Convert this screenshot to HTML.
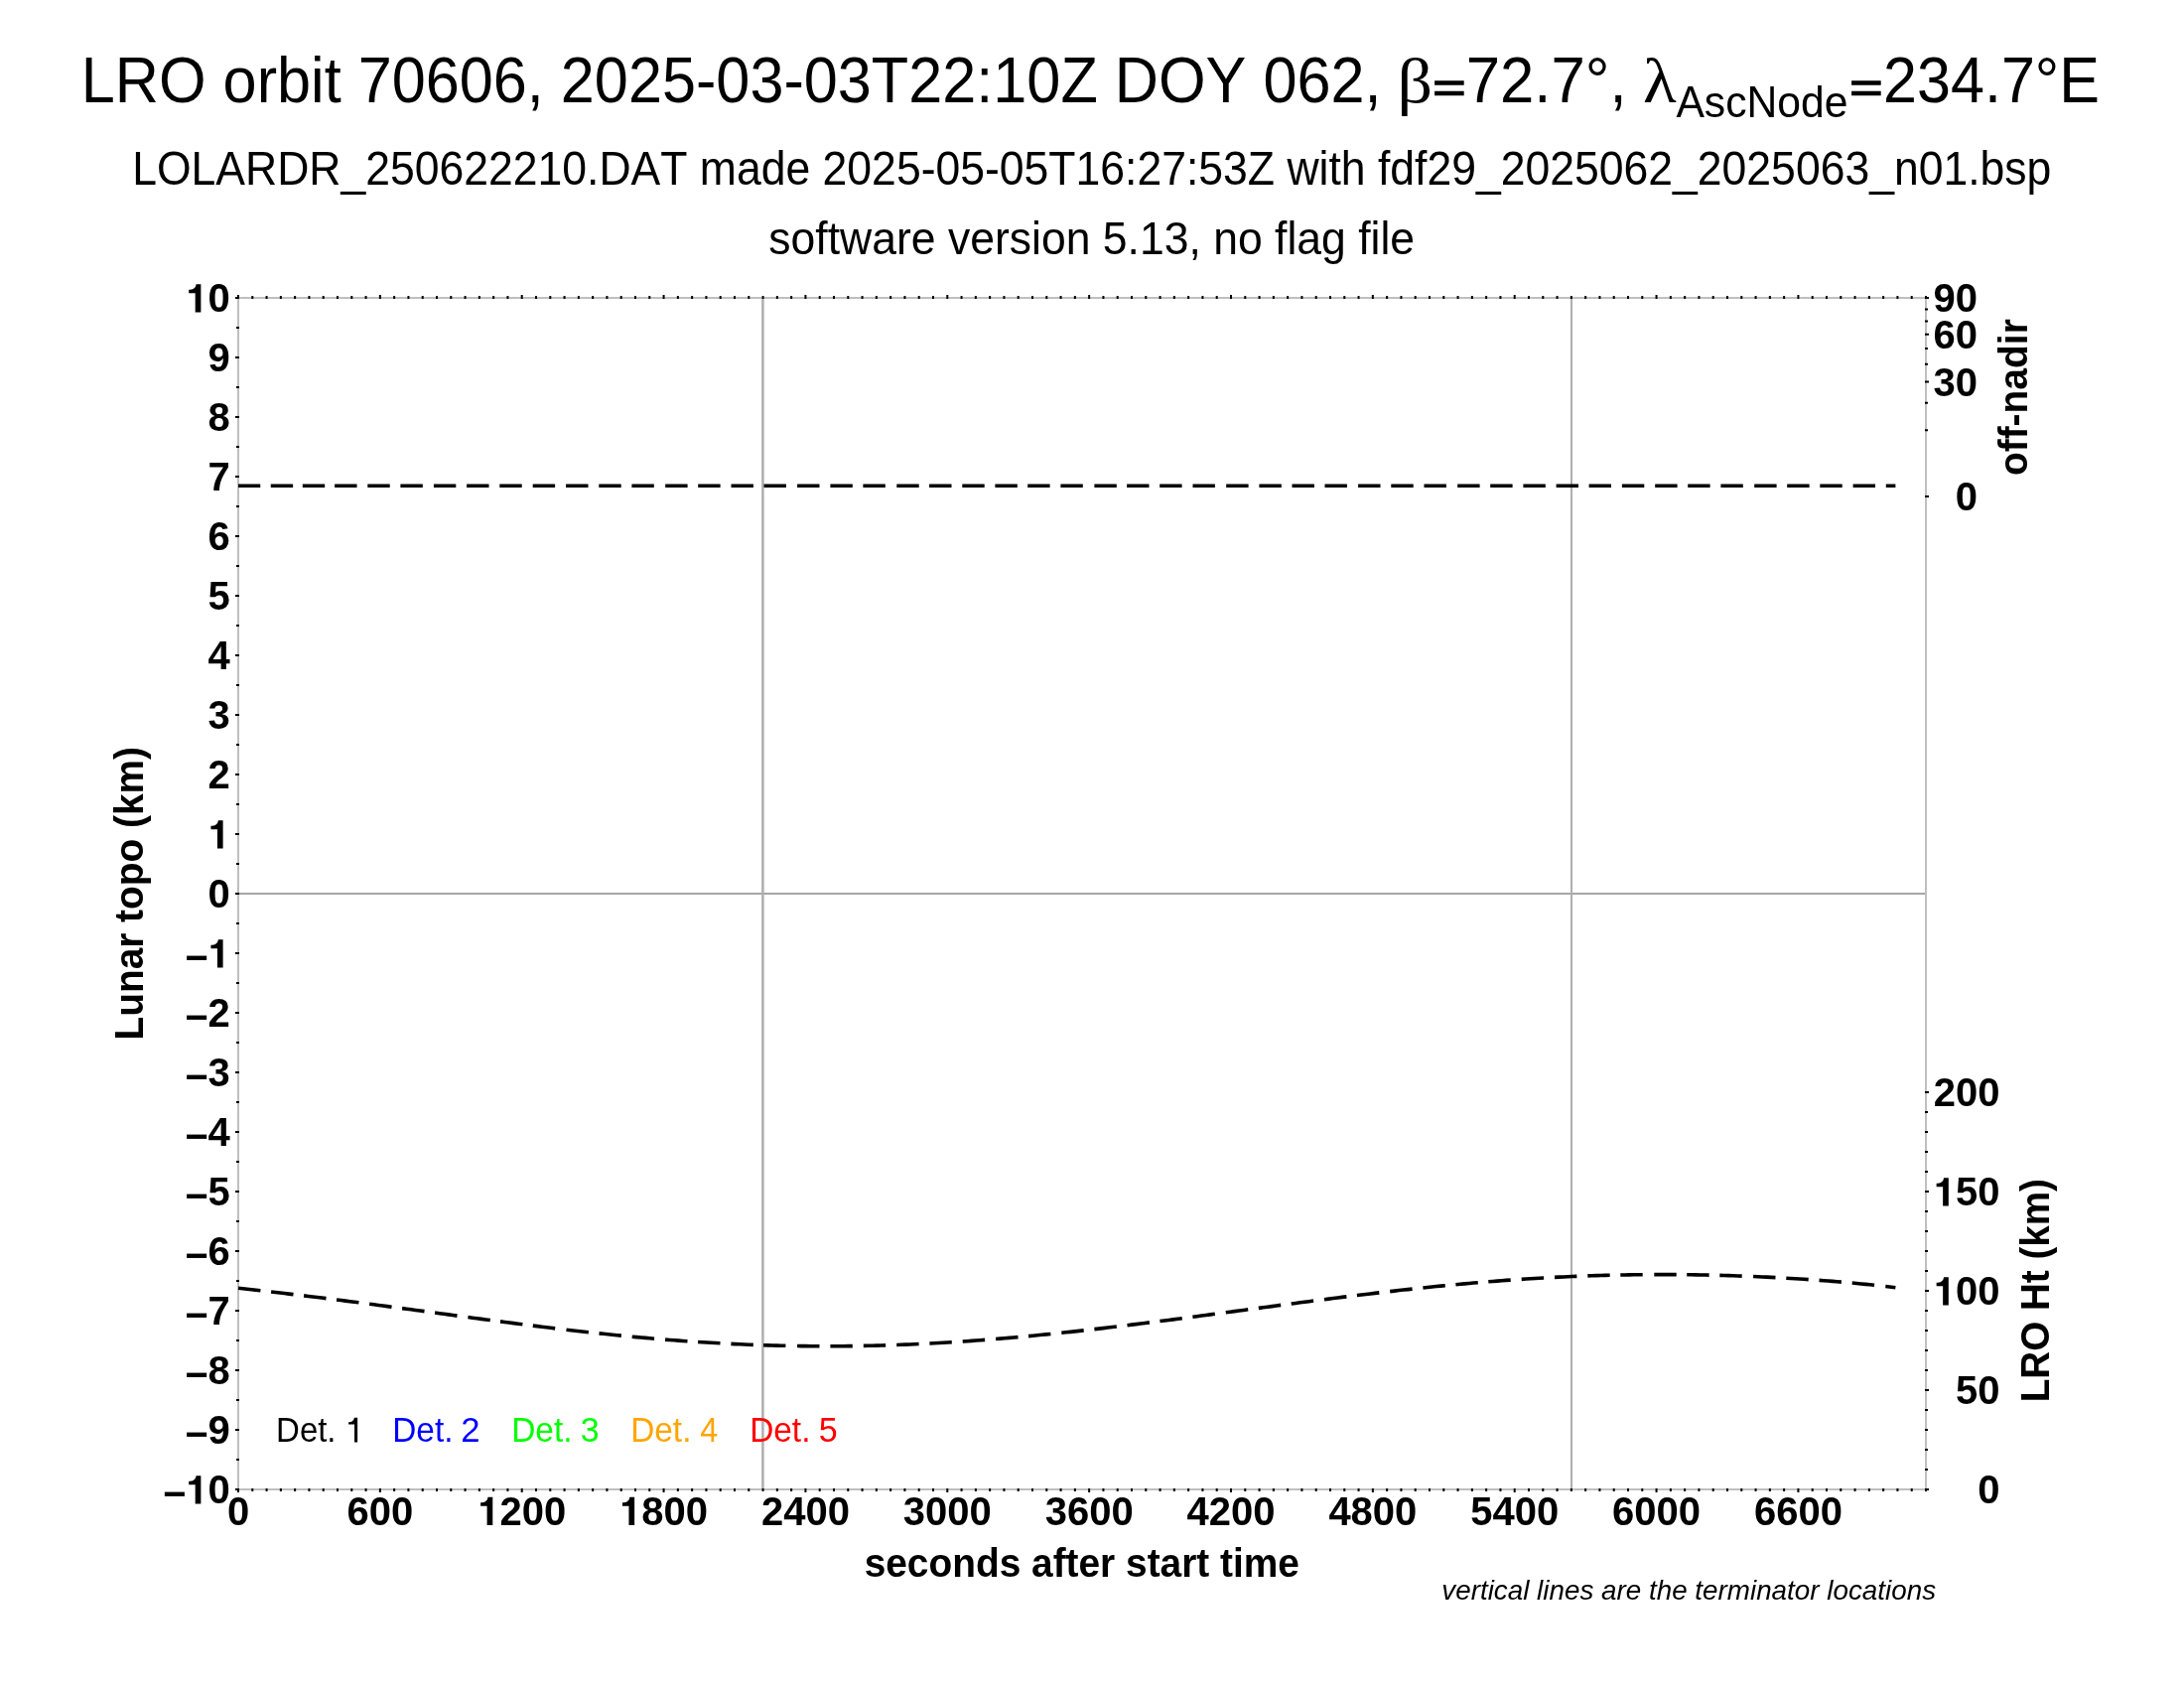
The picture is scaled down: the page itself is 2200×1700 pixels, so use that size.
<!DOCTYPE html>
<html><head><meta charset="utf-8"><style>
html,body{margin:0;padding:0;background:#fff;}
svg{display:block;will-change:transform;font-family:"Liberation Sans", sans-serif;font-kerning:none;}
text{font-kerning:none;}
</style></head><body>
<svg width="2200" height="1700" viewBox="0 0 2200 1700">
<rect width="2200" height="1700" fill="#fff"/>
<line x1="240.0" y1="900" x2="1940.0" y2="900" stroke="#a6a6a6" stroke-width="2"/>
<line x1="768.4" y1="300.0" x2="768.4" y2="1500.0" stroke="#aeaeae" stroke-width="2.5"/>
<line x1="1583" y1="300.0" x2="1583" y2="1500.0" stroke="#aeaeae" stroke-width="2"/>
<rect x="240.0" y="300.0" width="1700.0" height="1200.0" fill="none" stroke="#bfbfbf" stroke-width="2"/>
<path d="M240.00 1499.0V1503.0M240.00 301.0V297.0M254.29 1499.0V1502.0M254.29 301.0V298.0M268.57 1499.0V1502.0M268.57 301.0V298.0M282.86 1499.0V1502.0M282.86 301.0V298.0M297.14 1499.0V1502.0M297.14 301.0V298.0M311.43 1499.0V1502.0M311.43 301.0V298.0M325.71 1499.0V1502.0M325.71 301.0V298.0M340.00 1499.0V1502.0M340.00 301.0V298.0M354.29 1499.0V1502.0M354.29 301.0V298.0M368.57 1499.0V1502.0M368.57 301.0V298.0M382.86 1499.0V1503.0M382.86 301.0V297.0M397.14 1499.0V1502.0M397.14 301.0V298.0M411.43 1499.0V1502.0M411.43 301.0V298.0M425.71 1499.0V1502.0M425.71 301.0V298.0M440.00 1499.0V1502.0M440.00 301.0V298.0M454.29 1499.0V1502.0M454.29 301.0V298.0M468.57 1499.0V1502.0M468.57 301.0V298.0M482.86 1499.0V1502.0M482.86 301.0V298.0M497.14 1499.0V1502.0M497.14 301.0V298.0M511.43 1499.0V1502.0M511.43 301.0V298.0M525.71 1499.0V1503.0M525.71 301.0V297.0M540.00 1499.0V1502.0M540.00 301.0V298.0M554.29 1499.0V1502.0M554.29 301.0V298.0M568.57 1499.0V1502.0M568.57 301.0V298.0M582.86 1499.0V1502.0M582.86 301.0V298.0M597.14 1499.0V1502.0M597.14 301.0V298.0M611.43 1499.0V1502.0M611.43 301.0V298.0M625.71 1499.0V1502.0M625.71 301.0V298.0M640.00 1499.0V1502.0M640.00 301.0V298.0M654.29 1499.0V1502.0M654.29 301.0V298.0M668.57 1499.0V1503.0M668.57 301.0V297.0M682.86 1499.0V1502.0M682.86 301.0V298.0M697.14 1499.0V1502.0M697.14 301.0V298.0M711.43 1499.0V1502.0M711.43 301.0V298.0M725.71 1499.0V1502.0M725.71 301.0V298.0M740.00 1499.0V1502.0M740.00 301.0V298.0M754.29 1499.0V1502.0M754.29 301.0V298.0M768.57 1499.0V1502.0M768.57 301.0V298.0M782.86 1499.0V1502.0M782.86 301.0V298.0M797.14 1499.0V1502.0M797.14 301.0V298.0M811.43 1499.0V1503.0M811.43 301.0V297.0M825.71 1499.0V1502.0M825.71 301.0V298.0M840.00 1499.0V1502.0M840.00 301.0V298.0M854.29 1499.0V1502.0M854.29 301.0V298.0M868.57 1499.0V1502.0M868.57 301.0V298.0M882.86 1499.0V1502.0M882.86 301.0V298.0M897.14 1499.0V1502.0M897.14 301.0V298.0M911.43 1499.0V1502.0M911.43 301.0V298.0M925.71 1499.0V1502.0M925.71 301.0V298.0M940.00 1499.0V1502.0M940.00 301.0V298.0M954.29 1499.0V1503.0M954.29 301.0V297.0M968.57 1499.0V1502.0M968.57 301.0V298.0M982.86 1499.0V1502.0M982.86 301.0V298.0M997.14 1499.0V1502.0M997.14 301.0V298.0M1011.43 1499.0V1502.0M1011.43 301.0V298.0M1025.71 1499.0V1502.0M1025.71 301.0V298.0M1040.00 1499.0V1502.0M1040.00 301.0V298.0M1054.29 1499.0V1502.0M1054.29 301.0V298.0M1068.57 1499.0V1502.0M1068.57 301.0V298.0M1082.86 1499.0V1502.0M1082.86 301.0V298.0M1097.14 1499.0V1503.0M1097.14 301.0V297.0M1111.43 1499.0V1502.0M1111.43 301.0V298.0M1125.71 1499.0V1502.0M1125.71 301.0V298.0M1140.00 1499.0V1502.0M1140.00 301.0V298.0M1154.29 1499.0V1502.0M1154.29 301.0V298.0M1168.57 1499.0V1502.0M1168.57 301.0V298.0M1182.86 1499.0V1502.0M1182.86 301.0V298.0M1197.14 1499.0V1502.0M1197.14 301.0V298.0M1211.43 1499.0V1502.0M1211.43 301.0V298.0M1225.71 1499.0V1502.0M1225.71 301.0V298.0M1240.00 1499.0V1503.0M1240.00 301.0V297.0M1254.29 1499.0V1502.0M1254.29 301.0V298.0M1268.57 1499.0V1502.0M1268.57 301.0V298.0M1282.86 1499.0V1502.0M1282.86 301.0V298.0M1297.14 1499.0V1502.0M1297.14 301.0V298.0M1311.43 1499.0V1502.0M1311.43 301.0V298.0M1325.71 1499.0V1502.0M1325.71 301.0V298.0M1340.00 1499.0V1502.0M1340.00 301.0V298.0M1354.29 1499.0V1502.0M1354.29 301.0V298.0M1368.57 1499.0V1502.0M1368.57 301.0V298.0M1382.86 1499.0V1503.0M1382.86 301.0V297.0M1397.14 1499.0V1502.0M1397.14 301.0V298.0M1411.43 1499.0V1502.0M1411.43 301.0V298.0M1425.71 1499.0V1502.0M1425.71 301.0V298.0M1440.00 1499.0V1502.0M1440.00 301.0V298.0M1454.29 1499.0V1502.0M1454.29 301.0V298.0M1468.57 1499.0V1502.0M1468.57 301.0V298.0M1482.86 1499.0V1502.0M1482.86 301.0V298.0M1497.14 1499.0V1502.0M1497.14 301.0V298.0M1511.43 1499.0V1502.0M1511.43 301.0V298.0M1525.71 1499.0V1503.0M1525.71 301.0V297.0M1540.00 1499.0V1502.0M1540.00 301.0V298.0M1554.29 1499.0V1502.0M1554.29 301.0V298.0M1568.57 1499.0V1502.0M1568.57 301.0V298.0M1582.86 1499.0V1502.0M1582.86 301.0V298.0M1597.14 1499.0V1502.0M1597.14 301.0V298.0M1611.43 1499.0V1502.0M1611.43 301.0V298.0M1625.71 1499.0V1502.0M1625.71 301.0V298.0M1640.00 1499.0V1502.0M1640.00 301.0V298.0M1654.29 1499.0V1502.0M1654.29 301.0V298.0M1668.57 1499.0V1503.0M1668.57 301.0V297.0M1682.86 1499.0V1502.0M1682.86 301.0V298.0M1697.14 1499.0V1502.0M1697.14 301.0V298.0M1711.43 1499.0V1502.0M1711.43 301.0V298.0M1725.71 1499.0V1502.0M1725.71 301.0V298.0M1740.00 1499.0V1502.0M1740.00 301.0V298.0M1754.29 1499.0V1502.0M1754.29 301.0V298.0M1768.57 1499.0V1502.0M1768.57 301.0V298.0M1782.86 1499.0V1502.0M1782.86 301.0V298.0M1797.14 1499.0V1502.0M1797.14 301.0V298.0M1811.43 1499.0V1503.0M1811.43 301.0V297.0M1825.71 1499.0V1502.0M1825.71 301.0V298.0M1840.00 1499.0V1502.0M1840.00 301.0V298.0M1854.29 1499.0V1502.0M1854.29 301.0V298.0M1868.57 1499.0V1502.0M1868.57 301.0V298.0M1882.86 1499.0V1502.0M1882.86 301.0V298.0M1897.14 1499.0V1502.0M1897.14 301.0V298.0M1911.43 1499.0V1502.0M1911.43 301.0V298.0M1925.71 1499.0V1502.0M1925.71 301.0V298.0M1940.00 1499.0V1502.0M1940.00 301.0V298.0M241.0 1500.00H237.0M241.0 1470.00H238.0M241.0 1440.00H237.0M241.0 1410.00H238.0M241.0 1380.00H237.0M241.0 1350.00H238.0M241.0 1320.00H237.0M241.0 1290.00H238.0M241.0 1260.00H237.0M241.0 1230.00H238.0M241.0 1200.00H237.0M241.0 1170.00H238.0M241.0 1140.00H237.0M241.0 1110.00H238.0M241.0 1080.00H237.0M241.0 1050.00H238.0M241.0 1020.00H237.0M241.0 990.00H238.0M241.0 960.00H237.0M241.0 930.00H238.0M241.0 900.00H237.0M241.0 870.00H238.0M241.0 840.00H237.0M241.0 810.00H238.0M241.0 780.00H237.0M241.0 750.00H238.0M241.0 720.00H237.0M241.0 690.00H238.0M241.0 660.00H237.0M241.0 630.00H238.0M241.0 600.00H237.0M241.0 570.00H238.0M241.0 540.00H237.0M241.0 510.00H238.0M241.0 480.00H237.0M241.0 450.00H238.0M241.0 420.00H237.0M241.0 390.00H238.0M241.0 360.00H237.0M241.0 330.00H238.0M241.0 300.00H237.0M1939.0 500.00H1943.0M1939.0 433.33H1942.0M1939.0 405.72H1942.0M1939.0 384.53H1943.0M1939.0 366.67H1942.0M1939.0 350.93H1942.0M1939.0 336.70H1943.0M1939.0 323.62H1942.0M1939.0 311.44H1942.0M1939.0 300.00H1943.0M1939.0 1500.00H1943.0M1939.0 1480.00H1942.0M1939.0 1460.00H1942.0M1939.0 1440.00H1942.0M1939.0 1420.00H1942.0M1939.0 1400.00H1943.0M1939.0 1380.00H1942.0M1939.0 1360.00H1942.0M1939.0 1340.00H1942.0M1939.0 1320.00H1942.0M1939.0 1300.00H1943.0M1939.0 1280.00H1942.0M1939.0 1260.00H1942.0M1939.0 1240.00H1942.0M1939.0 1220.00H1942.0M1939.0 1200.00H1943.0M1939.0 1180.00H1942.0M1939.0 1160.00H1942.0M1939.0 1140.00H1942.0M1939.0 1120.00H1942.0M1939.0 1100.00H1943.0" stroke="#000" stroke-width="2" fill="none"/>
<path d="M240.00 489.3H262.25M272.75 489.3H295.15M304.80 489.3H327.20M337.15 489.3H359.55M370.30 489.3H392.70M403.40 489.3H425.80M436.90 489.3H459.30M470.10 489.3H492.50M503.30 489.3H525.70M536.70 489.3H559.10M570.10 489.3H592.50M603.30 489.3H625.70M636.40 489.3H658.80M670.20 489.3H692.60M703.20 489.3H725.60M736.50 489.3H758.90M769.50 489.3H791.90M803.10 489.3H825.50M836.40 489.3H858.80M869.40 489.3H891.80M903.30 489.3H925.70M936.10 489.3H958.50M969.30 489.3H991.70M1002.40 489.3H1024.80M1035.20 489.3H1057.60M1068.40 489.3H1090.80M1102.40 489.3H1124.80M1135.10 489.3H1157.50M1168.20 489.3H1190.60M1201.50 489.3H1223.90M1235.20 489.3H1257.60M1268.40 489.3H1290.80M1301.50 489.3H1323.90M1334.50 489.3H1356.90M1368.10 489.3H1390.50M1401.30 489.3H1423.70M1434.50 489.3H1456.90M1468.20 489.3H1490.60M1501.20 489.3H1523.60M1534.40 489.3H1556.80M1567.60 489.3H1590.00M1600.60 489.3H1623.00M1633.90 489.3H1656.30M1667.20 489.3H1689.60M1700.20 489.3H1722.60M1733.40 489.3H1755.80M1767.20 489.3H1789.60M1800.20 489.3H1822.60M1833.30 489.3H1855.70M1866.60 489.3H1889.00M1899.80 489.3H1909.40" stroke="#000" stroke-width="3.6" fill="none"/>
<path d="M240.00 1297.29L244.48 1297.78L248.96 1298.27L253.44 1298.77L257.92 1299.27L262.40 1299.78M273.10 1301.00L277.58 1301.51L282.06 1302.03L286.54 1302.56L291.02 1303.09L295.50 1303.62M306.10 1304.89L310.58 1305.43L315.06 1305.98L319.54 1306.53L324.02 1307.08L328.50 1307.64M339.05 1308.96L343.53 1309.53L348.01 1310.10L352.49 1310.68L356.97 1311.25L361.45 1311.83M372.15 1313.23L376.63 1313.82L381.11 1314.41L385.59 1315.00L390.07 1315.60L394.55 1316.19M405.10 1317.61L409.58 1318.21L414.06 1318.81L418.54 1319.42L423.02 1320.02L427.50 1320.63M438.10 1322.07L442.58 1322.67L447.06 1323.28L451.54 1323.89L456.02 1324.49L460.50 1325.10M471.40 1326.57L475.88 1327.17L480.36 1327.77L484.84 1328.37L489.32 1328.96L493.80 1329.56M504.00 1330.90L508.48 1331.48L512.96 1332.07L517.44 1332.64L521.92 1333.22L526.40 1333.79M536.80 1335.10L541.28 1335.66L545.76 1336.21L550.24 1336.76L554.72 1337.30L559.20 1337.84M570.50 1339.18L574.98 1339.70L579.46 1340.21L583.94 1340.72L588.42 1341.22L592.90 1341.71M603.50 1342.85L607.98 1343.33L612.46 1343.79L616.94 1344.25L621.42 1344.70L625.90 1345.14M636.70 1346.18L641.18 1346.60L645.66 1347.00L650.14 1347.40L654.62 1347.80L659.10 1348.18M670.10 1349.09L674.58 1349.44L679.06 1349.78L683.54 1350.12L688.02 1350.45L692.50 1350.77M703.10 1351.48L707.58 1351.77L712.06 1352.04L716.54 1352.31L721.02 1352.57L725.50 1352.82M736.40 1353.38L740.88 1353.60L745.36 1353.80L749.84 1354.00L754.32 1354.18L758.80 1354.36M769.00 1354.72L773.48 1354.86L777.96 1354.99L782.44 1355.11L786.92 1355.22L791.40 1355.32M803.10 1355.53L807.58 1355.60L812.06 1355.65L816.54 1355.69L821.02 1355.72L825.50 1355.75M836.40 1355.76L840.88 1355.74L845.36 1355.72L849.84 1355.68L854.32 1355.64L858.80 1355.58M869.80 1355.40L874.28 1355.31L878.76 1355.21L883.24 1355.10L887.72 1354.97L892.20 1354.84M903.20 1354.48L907.68 1354.31L912.16 1354.13L916.64 1353.95L921.12 1353.75L925.60 1353.55M936.40 1353.01L940.88 1352.77L945.36 1352.52L949.84 1352.27L954.32 1352.00L958.80 1351.72M969.70 1351.02L974.18 1350.71L978.66 1350.39L983.14 1350.07L987.62 1349.74L992.10 1349.40M1003.10 1348.52L1007.58 1348.15L1012.06 1347.77L1016.54 1347.39L1021.02 1347.00L1025.50 1346.59M1036.00 1345.62L1040.48 1345.20L1044.96 1344.77L1049.44 1344.33L1053.92 1343.88L1058.40 1343.43M1069.30 1342.29L1073.78 1341.82L1078.26 1341.34L1082.74 1340.85L1087.22 1340.36L1091.70 1339.86M1102.40 1338.64L1106.88 1338.12L1111.36 1337.60L1115.84 1337.07L1120.32 1336.54L1124.80 1336.00M1135.50 1334.71L1139.98 1334.15L1144.46 1333.60L1148.94 1333.04L1153.42 1332.48L1157.90 1331.91M1168.40 1330.57L1172.88 1330.00L1177.36 1329.42L1181.84 1328.84L1186.32 1328.25L1190.80 1327.67M1201.40 1326.27L1205.88 1325.68L1210.36 1325.08L1214.84 1324.49L1219.32 1323.89L1223.80 1323.29M1234.80 1321.82L1239.28 1321.22L1243.76 1320.62L1248.24 1320.02L1252.72 1319.42L1257.20 1318.82M1267.80 1317.39L1272.28 1316.79L1276.76 1316.19L1281.24 1315.60L1285.72 1315.00L1290.20 1314.40M1300.70 1313.01L1305.18 1312.42L1309.66 1311.83L1314.14 1311.25L1318.62 1310.66L1323.10 1310.08M1334.00 1308.67L1338.48 1308.10L1342.96 1307.53L1347.44 1306.97L1351.92 1306.40L1356.40 1305.85M1366.90 1304.55L1371.38 1304.00L1375.86 1303.46L1380.34 1302.92L1384.82 1302.39L1389.30 1301.86M1400.20 1300.60L1404.68 1300.09L1409.16 1299.58L1413.64 1299.08L1418.12 1298.59L1422.60 1298.10M1433.40 1296.95L1437.88 1296.48L1442.36 1296.02L1446.84 1295.57L1451.32 1295.12L1455.80 1294.68M1466.40 1293.67L1470.88 1293.26L1475.36 1292.85L1479.84 1292.45L1484.32 1292.05L1488.80 1291.67M1499.30 1290.80L1503.78 1290.44L1508.26 1290.09L1512.74 1289.75L1517.22 1289.42L1521.70 1289.09M1532.70 1288.33L1537.18 1288.04L1541.66 1287.75L1546.14 1287.48L1550.62 1287.21L1555.10 1286.96M1566.00 1286.37L1570.48 1286.14L1574.96 1285.93L1579.44 1285.72L1583.92 1285.53L1588.40 1285.34M1599.30 1284.92L1603.78 1284.77L1608.26 1284.62L1612.74 1284.49L1617.22 1284.36L1621.70 1284.25M1632.30 1284.01L1636.78 1283.93L1641.26 1283.86L1645.74 1283.79L1650.22 1283.74L1654.70 1283.69M1666.30 1283.62L1670.78 1283.61L1675.26 1283.61L1679.74 1283.62L1684.22 1283.64L1688.70 1283.66M1699.20 1283.76L1703.68 1283.82L1708.16 1283.89L1712.64 1283.96L1717.12 1284.05L1721.60 1284.14M1732.30 1284.40L1736.78 1284.52L1741.26 1284.66L1745.74 1284.80L1750.22 1284.95L1754.70 1285.11M1766.10 1285.56L1770.58 1285.75L1775.06 1285.95L1779.54 1286.16L1784.02 1286.38L1788.50 1286.61M1799.30 1287.19L1803.78 1287.45L1808.26 1287.72L1812.74 1288.00L1817.22 1288.29L1821.70 1288.59M1832.50 1289.35L1836.98 1289.68L1841.46 1290.02L1845.94 1290.38L1850.42 1290.74L1854.90 1291.12M1865.70 1292.07L1870.18 1292.49L1874.66 1292.92L1879.14 1293.36L1883.62 1293.81L1888.10 1294.28M1899.30 1295.51L1901.32 1295.74L1903.34 1295.98L1905.36 1296.21L1907.38 1296.45L1909.40 1296.70" stroke="#000" stroke-width="3.6" fill="none"/>
<text x="81.78" y="103.4" font-family='"Liberation Sans", sans-serif' font-size="64" font-weight="normal" font-style="normal" fill="#000" textLength="1309.72" lengthAdjust="spacingAndGlyphs" >LRO orbit 70606, 2025-03-03T22:10Z DOY 062,</text>
<text x="1407.49" y="103.4" font-family='"Liberation Serif", serif' font-size="64" font-weight="normal" font-style="normal" fill="#000" textLength="35.58" lengthAdjust="spacingAndGlyphs" >β</text>
<path d="M1445.1 81.3h29.6v4.4h-29.6zM1445.1 91.8h29.6v4.4h-29.6z" fill="#000"/>
<path d="M1865.1 81.3h29.6v4.4h-29.6zM1865.1 91.8h29.6v4.4h-29.6z" fill="#000"/>
<text x="1476.64" y="103.4" font-family='"Liberation Sans", sans-serif' font-size="64" font-weight="normal" font-style="normal" fill="#000" textLength="161.91" lengthAdjust="spacingAndGlyphs" >72.7°,</text>
<text x="1655.07" y="103.4" font-family='"Liberation Serif", serif' font-size="64" font-weight="normal" font-style="normal" fill="#000" textLength="33.71" lengthAdjust="spacingAndGlyphs" >λ</text>
<text x="1688.42" y="117.7" font-family='"Liberation Sans", sans-serif' font-size="44" font-weight="normal" font-style="normal" fill="#000" textLength="173.08" lengthAdjust="spacingAndGlyphs" >AscNode</text>
<text x="1897.03" y="103.4" font-family='"Liberation Sans", sans-serif' font-size="64" font-weight="normal" font-style="normal" fill="#000" textLength="218.00" lengthAdjust="spacingAndGlyphs" >234.7°E</text>
<text x="133.15" y="186.2" font-family='"Liberation Sans", sans-serif' font-size="48" font-weight="normal" font-style="normal" fill="#000" textLength="1933.22" lengthAdjust="spacingAndGlyphs" >LOLARDR_250622210.DAT made 2025-05-05T16:27:53Z with fdf29_2025062_2025063_n01.bsp</text>
<text x="774.36" y="256.3" font-family='"Liberation Sans", sans-serif' font-size="46.5" font-weight="normal" font-style="normal" fill="#000" textLength="650.72" lengthAdjust="spacingAndGlyphs" >software version 5.13, no flag file</text>
<path transform="translate(187.32 314.40) scale(0.0400 -0.0400)" d="M376 0H234V477H72V566C175 570 243 600 256 706H376Z" fill="#000"/>
<text x="209.56" y="314.40" font-size="40" font-weight="bold" fill="#000">0</text>
<text x="209.56" y="374.40" font-size="40" font-weight="bold" fill="#000">9</text>
<text x="209.56" y="434.40" font-size="40" font-weight="bold" fill="#000">8</text>
<text x="209.56" y="494.40" font-size="40" font-weight="bold" fill="#000">7</text>
<text x="209.56" y="554.40" font-size="40" font-weight="bold" fill="#000">6</text>
<text x="209.56" y="614.40" font-size="40" font-weight="bold" fill="#000">5</text>
<text x="209.56" y="674.40" font-size="40" font-weight="bold" fill="#000">4</text>
<text x="209.56" y="734.40" font-size="40" font-weight="bold" fill="#000">3</text>
<text x="209.56" y="794.40" font-size="40" font-weight="bold" fill="#000">2</text>
<path transform="translate(209.56 854.40) scale(0.0400 -0.0400)" d="M376 0H234V477H72V566C175 570 243 600 256 706H376Z" fill="#000"/>
<text x="209.56" y="914.40" font-size="40" font-weight="bold" fill="#000">0</text>
<text x="186.20" y="978.10" font-size="40" font-weight="bold" fill="#000">−</text>
<path transform="translate(209.56 974.40) scale(0.0400 -0.0400)" d="M376 0H234V477H72V566C175 570 243 600 256 706H376Z" fill="#000"/>
<text x="186.20" y="1038.10" font-size="40" font-weight="bold" fill="#000">−</text>
<text x="209.56" y="1034.40" font-size="40" font-weight="bold" fill="#000">2</text>
<text x="186.20" y="1098.10" font-size="40" font-weight="bold" fill="#000">−</text>
<text x="209.56" y="1094.40" font-size="40" font-weight="bold" fill="#000">3</text>
<text x="186.20" y="1158.10" font-size="40" font-weight="bold" fill="#000">−</text>
<text x="209.56" y="1154.40" font-size="40" font-weight="bold" fill="#000">4</text>
<text x="186.20" y="1218.10" font-size="40" font-weight="bold" fill="#000">−</text>
<text x="209.56" y="1214.40" font-size="40" font-weight="bold" fill="#000">5</text>
<text x="186.20" y="1278.10" font-size="40" font-weight="bold" fill="#000">−</text>
<text x="209.56" y="1274.40" font-size="40" font-weight="bold" fill="#000">6</text>
<text x="186.20" y="1338.10" font-size="40" font-weight="bold" fill="#000">−</text>
<text x="209.56" y="1334.40" font-size="40" font-weight="bold" fill="#000">7</text>
<text x="186.20" y="1398.10" font-size="40" font-weight="bold" fill="#000">−</text>
<text x="209.56" y="1394.40" font-size="40" font-weight="bold" fill="#000">8</text>
<text x="186.20" y="1458.10" font-size="40" font-weight="bold" fill="#000">−</text>
<text x="209.56" y="1454.40" font-size="40" font-weight="bold" fill="#000">9</text>
<text x="163.96" y="1518.10" font-size="40" font-weight="bold" fill="#000">−</text>
<path transform="translate(187.32 1514.40) scale(0.0400 -0.0400)" d="M376 0H234V477H72V566C175 570 243 600 256 706H376Z" fill="#000"/>
<text x="209.56" y="1514.40" font-size="40" font-weight="bold" fill="#000">0</text>
<text x="228.88" y="1535.90" font-size="40" font-weight="bold" fill="#000">0</text>
<text x="349.50" y="1535.90" font-size="40" font-weight="bold" fill="#000">600</text>
<path transform="translate(481.23 1535.90) scale(0.0400 -0.0400)" d="M376 0H234V477H72V566C175 570 243 600 256 706H376Z" fill="#000"/>
<text x="503.47" y="1535.90" font-size="40" font-weight="bold" fill="#000">200</text>
<path transform="translate(624.09 1535.90) scale(0.0400 -0.0400)" d="M376 0H234V477H72V566C175 570 243 600 256 706H376Z" fill="#000"/>
<text x="646.33" y="1535.90" font-size="40" font-weight="bold" fill="#000">800</text>
<text x="766.95" y="1535.90" font-size="40" font-weight="bold" fill="#000">2400</text>
<text x="909.81" y="1535.90" font-size="40" font-weight="bold" fill="#000">3000</text>
<text x="1052.66" y="1535.90" font-size="40" font-weight="bold" fill="#000">3600</text>
<text x="1195.52" y="1535.90" font-size="40" font-weight="bold" fill="#000">4200</text>
<text x="1338.38" y="1535.90" font-size="40" font-weight="bold" fill="#000">4800</text>
<text x="1481.23" y="1535.90" font-size="40" font-weight="bold" fill="#000">5400</text>
<text x="1624.09" y="1535.90" font-size="40" font-weight="bold" fill="#000">6000</text>
<text x="1766.95" y="1535.90" font-size="40" font-weight="bold" fill="#000">6600</text>
<text x="1969.76" y="514.40" font-size="40" font-weight="bold" fill="#000">0</text>
<text x="1947.52" y="398.93" font-size="40" font-weight="bold" fill="#000">30</text>
<text x="1947.52" y="351.10" font-size="40" font-weight="bold" fill="#000">60</text>
<text x="1947.52" y="314.40" font-size="40" font-weight="bold" fill="#000">90</text>
<text x="1992.26" y="1514.40" font-size="40" font-weight="bold" fill="#000">0</text>
<text x="1970.02" y="1414.40" font-size="40" font-weight="bold" fill="#000">50</text>
<path transform="translate(1947.78 1314.40) scale(0.0400 -0.0400)" d="M376 0H234V477H72V566C175 570 243 600 256 706H376Z" fill="#000"/>
<text x="1970.02" y="1314.40" font-size="40" font-weight="bold" fill="#000">00</text>
<path transform="translate(1947.78 1214.40) scale(0.0400 -0.0400)" d="M376 0H234V477H72V566C175 570 243 600 256 706H376Z" fill="#000"/>
<text x="1970.02" y="1214.40" font-size="40" font-weight="bold" fill="#000">50</text>
<text x="1947.78" y="1114.40" font-size="40" font-weight="bold" fill="#000">200</text>
<text x="870.63" y="1587.5" font-family='"Liberation Sans", sans-serif' font-size="40" font-weight="bold" font-style="normal" fill="#000" textLength="438.29" lengthAdjust="spacingAndGlyphs" >seconds after start time</text>
<text x="1452.28" y="1610.6" font-family='"Liberation Sans", sans-serif' font-size="28" font-weight="normal" font-style="italic" fill="#000" textLength="497.79" lengthAdjust="spacingAndGlyphs" >vertical lines are the terminator locations</text>
<text x="-4.05" y="899.45" font-size="40" font-weight="bold" fill="#000" textLength="295.43" lengthAdjust="spacingAndGlyphs" transform="rotate(-90 144 899.45)">Lunar topo (km)</text>
<text x="1962.38" y="399.70" font-size="40" font-weight="bold" fill="#000" textLength="157.91" lengthAdjust="spacingAndGlyphs" transform="rotate(-90 2041.8 399.70)">off-nadir</text>
<text x="1951.07" y="1299.35" font-size="40" font-weight="bold" fill="#000" textLength="225.21" lengthAdjust="spacingAndGlyphs" transform="rotate(-90 2064 1299.35)">LRO Ht (km)</text>
<text x="278.10" y="1452.4" font-family='"Liberation Sans", sans-serif' font-size="35" font-weight="normal" font-style="normal" fill="#000000" textLength="60.41" lengthAdjust="spacingAndGlyphs" >Det.</text>
<path transform="translate(347.56 1452.40) scale(0.0350 -0.0350)" d="M359 0H271V511H101V574C190 578 253 608 265 703H359Z" fill="#000000"/>
<text x="395.26" y="1452.4" font-family='"Liberation Sans", sans-serif' font-size="35" font-weight="normal" font-style="normal" fill="#0000ff" textLength="61.18" lengthAdjust="spacingAndGlyphs" >Det.</text>
<text x="464.36" y="1452.4" font-family='"Liberation Sans", sans-serif' font-size="35" font-weight="normal" font-style="normal" fill="#0000ff" textLength="19.29" lengthAdjust="spacingAndGlyphs" >2</text>
<text x="515.15" y="1452.4" font-family='"Liberation Sans", sans-serif' font-size="35" font-weight="normal" font-style="normal" fill="#00ff00" textLength="61.40" lengthAdjust="spacingAndGlyphs" >Det.</text>
<text x="584.71" y="1452.4" font-family='"Liberation Sans", sans-serif' font-size="35" font-weight="normal" font-style="normal" fill="#00ff00" textLength="18.89" lengthAdjust="spacingAndGlyphs" >3</text>
<text x="635.16" y="1452.4" font-family='"Liberation Sans", sans-serif' font-size="35" font-weight="normal" font-style="normal" fill="#ffa500" textLength="61.29" lengthAdjust="spacingAndGlyphs" >Det.</text>
<text x="705.16" y="1452.4" font-family='"Liberation Sans", sans-serif' font-size="35" font-weight="normal" font-style="normal" fill="#ffa500" textLength="17.99" lengthAdjust="spacingAndGlyphs" >4</text>
<text x="755.16" y="1452.4" font-family='"Liberation Sans", sans-serif' font-size="35" font-weight="normal" font-style="normal" fill="#ff0000" textLength="61.29" lengthAdjust="spacingAndGlyphs" >Det.</text>
<text x="824.63" y="1452.4" font-family='"Liberation Sans", sans-serif' font-size="35" font-weight="normal" font-style="normal" fill="#ff0000" textLength="19.00" lengthAdjust="spacingAndGlyphs" >5</text>
</svg>
</body></html>
